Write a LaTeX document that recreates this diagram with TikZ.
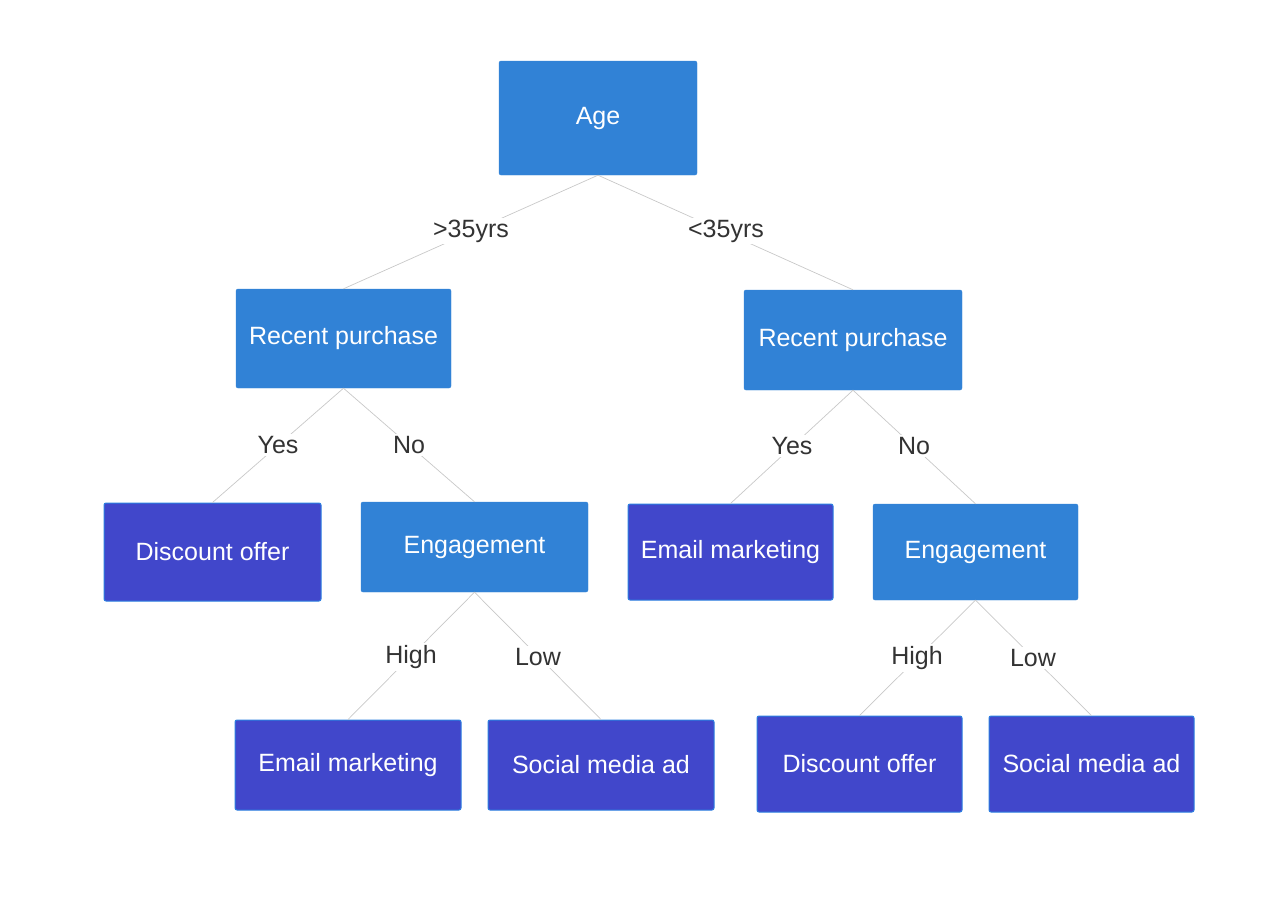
\documentclass[tikz,border=0pt]{standalone}
\usepackage{fontspec}
\setmainfont{Liberation Sans}
\definecolor{dec}{HTML}{3182D6}
\definecolor{leaf}{HTML}{4147CB}
\definecolor{leafb}{HTML}{2B7FE0}
\definecolor{edge}{HTML}{C8C8C8}
\definecolor{lab}{HTML}{333333}
\begin{document}
\begin{tikzpicture}[x=1pt,y=-1pt,
  box/.style={rounded corners=2pt,text=white,font=\fontsize{25}{30}\selectfont,inner sep=0pt},
  decb/.style={box,fill=dec,draw=dec},
  leafbx/.style={box,fill=leaf,draw=leafb,line width=1pt},
  lbl/.style={fill=white,text=lab,font=\fontsize{25}{30}\selectfont,inner sep=2pt},
  con/.style={draw=edge,line width=0.7pt}]
\useasboundingbox (0,0) rectangle (1286,900);
\newcommand{\bx}[6]{\node[#2,minimum width=#5-#3,minimum height=#6-#4] (#1) at ({(#3+#5)/2},{(#4+#6)/2}) {};}
\bx{age}{decb}{499}{61}{697}{175}
\bx{rl}{decb}{236}{289}{451}{388}
\bx{rr}{decb}{744}{290}{962}{390}
\bx{dl}{leafbx}{104}{503}{321}{601}
\bx{el}{decb}{361}{502}{588}{592}
\bx{em}{leafbx}{628}{504}{833}{600}
\bx{er}{decb}{873}{504}{1078}{600}
\bx{eml}{leafbx}{235}{720}{461}{810}
\bx{sl}{leafbx}{488}{720}{714}{810}
\bx{dr}{leafbx}{757}{716}{962}{812}
\bx{sr}{leafbx}{989}{716}{1194}{812}
\foreach \n/\t in {age/Age,rl/Recent purchase,rr/Recent purchase,dl/Discount offer,el/Engagement,em/Email marketing,er/Engagement,eml/Email marketing,sl/Social media ad,dr/Discount offer,sr/Social media ad}
  \node[text=white,font=\fontsize{25}{30}\selectfont] at (\n) {\t};
\foreach \a/\b in {age/rl,age/rr,rl/dl,rl/el,rr/em,rr/er,el/eml,el/sl,er/dr,er/sr}
  \draw[con] (\a.south) -- (\b.north);
\node[lbl] (l1) at (471,231) {>35yrs};
\node[lbl] (l2) at (726,231) {<35yrs};
\node[lbl] (l3) at (278,445) {Yes};
\node[lbl] (l4) at (409,445) {No};
\node[lbl] (l5) at (792,446) {Yes};
\node[lbl] (l6) at (914,446) {No};
\node[lbl] (l7) at (411,657) {High};
\node[lbl] (l8) at (538,657) {Low};
\node[lbl] (l9) at (917,658) {High};
\node[lbl] (l10) at (1033,658) {Low};
\end{tikzpicture}
\end{document}
